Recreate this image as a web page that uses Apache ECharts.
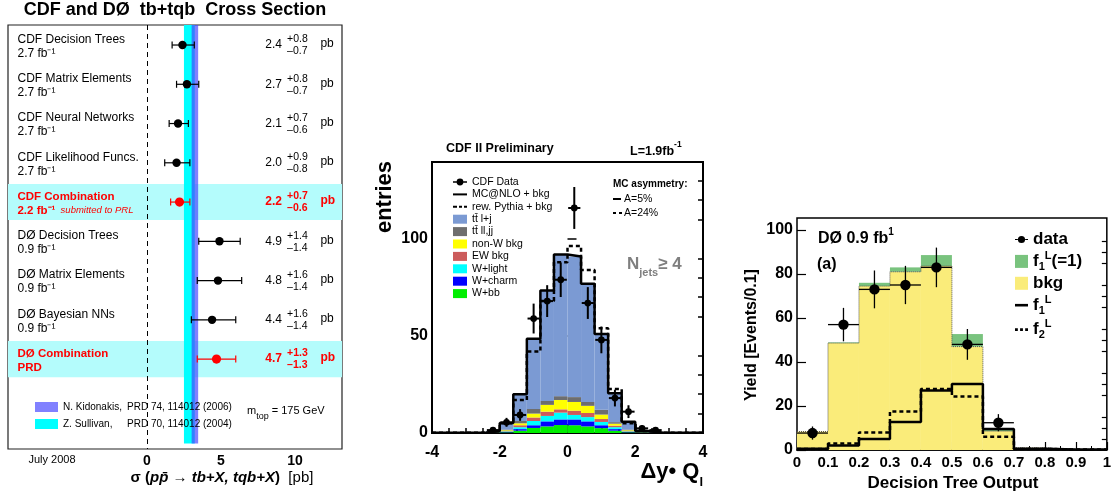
<!DOCTYPE html>
<html>
<head>
<meta charset="utf-8">
<title>Single top cross section</title>
<script src="https://cdn.jsdelivr.net/npm/echarts@6/dist/echarts.min.js"></script>
<style>
html, body { margin: 0; padding: 0; background: #fff; }
#container { width: 1114px; height: 496px; }
</style>
</head>
<body>
<div id="container"></div>
<script>
(function () {
    // ---------- left panel: tb+tqb cross section measurements [pb] ----------
    var measNames = ['CDF Decision Trees', 'CDF Matrix Elements', 'CDF Neural Networks', 'CDF Likelihood Funcs.',
        'CDF Combination', 'DØ Decision Trees', 'DØ Matrix Elements', 'DØ Bayesian NNs', 'DØ Combination'];
    var measSub = ['2.7 fb⁻¹', '2.7 fb⁻¹', '2.7 fb⁻¹', '2.7 fb⁻¹', '2.2 fb⁻¹', '0.9 fb⁻¹', '0.9 fb⁻¹', '0.9 fb⁻¹', 'PRD'];
    var measNote = ['', '', '', '', 'submitted to PRL', '', '', '', ''];
    var measVal = [2.4, 2.7, 2.1, 2.0, 2.2, 4.9, 4.8, 4.4, 4.7];
    var measUp = [0.8, 0.8, 0.7, 0.9, 0.7, 1.4, 1.6, 1.6, 1.3];
    var measDn = [0.7, 0.7, 0.6, 0.8, 0.6, 1.4, 1.4, 1.4, 1.3];
    var measComb = [false, false, false, false, true, false, false, false, true];
    var bandKidonakis = [3.02, 3.46];
    var bandSullivan = [2.50, 3.23];
    var xsTicks = [0, 5, 10];

    // ---------- middle panel: CDF dy*Q, Njets >= 4 ----------
    var dyBins = [-3.8, -3.4, -3.0, -2.6, -2.2, -1.8, -1.4, -1.0, -0.6, -0.2, 0.2, 0.6, 1.0, 1.4, 1.8, 2.2, 2.6, 3.0, 3.4, 3.8];
    var cdfData = [0, 0, 0, 0, 1.5, 5.5, 9.3, 59, 68, 79, 116, 67, 48, 18, 11, 2.4, 1.5, 0, 0, 0];
    var cdfErr = [0, 0, 0, 0, 1.2, 2.3, 3.0, 7.7, 8.2, 8.9, 10.8, 8.2, 6.9, 4.3, 3.3, 1.5, 1.2, 0, 0, 0];
    var mcnlo = [0.1, 0.1, 0.1, 0.2, 1.0, 5.2, 20, 48.6, 73.5, 92, 91, 77, 51, 20.5, 5.8, 1.0, 0.2, 0.1, 0.1, 0.1];
    var pythia = [0.1, 0.1, 0.1, 0.2, 1.0, 5.0, 17, 42, 68, 88, 96.4, 84, 54, 22.7, 5.0, 1.0, 0.2, 0.1, 0.1, 0.1];
    var ttLj = [0.1, 0.1, 0.1, 0.2, 0.6, 3.4, 13.8, 36.2, 57, 73, 72.5, 61, 39, 14.9, 4.0, 0.6, 0.2, 0.1, 0.1, 0.1];
    var ttDil = [0, 0, 0, 0, 0.1, 0.4, 1.2, 2.4, 2.0, 2.0, 2.5, 2.0, 2.5, 0.8, 0.4, 0.1, 0, 0, 0, 0];
    var nonW = [0, 0, 0, 0, 0.1, 0.4, 1.0, 2.0, 3.5, 4.8, 4.5, 3.7, 2.3, 1.0, 0.4, 0.1, 0, 0, 0, 0];
    var ewBkg = [0, 0, 0, 0, 0, 0.2, 1.0, 1.8, 2.2, 1.7, 2.2, 2.1, 1.5, 0.8, 0.2, 0, 0, 0, 0, 0];
    var wLight = [0, 0, 0, 0, 0.1, 0.3, 1.0, 2.2, 2.8, 3.5, 2.3, 2.2, 1.7, 1.0, 0.3, 0.1, 0, 0, 0, 0];
    var wCharm = [0, 0, 0, 0, 0.1, 0.2, 0.8, 1.4, 2.6, 2.9, 3.0, 2.6, 1.5, 0.8, 0.2, 0.1, 0, 0, 0, 0];
    var wBb = [0, 0, 0, 0, 0.1, 0.3, 1.2, 2.6, 3.4, 4.1, 4.0, 3.4, 2.5, 1.2, 0.3, 0.1, 0, 0, 0, 0];
    var dyMajor = [0, 50, 100];
    var dyMinor = [10, 20, 30, 40, 60, 70, 80, 90, 110, 120, 130];

    // ---------- right panel: DØ decision tree output ----------
    var dtBins = [0.05, 0.15, 0.25, 0.35, 0.45, 0.55, 0.65, 0.75, 0.85, 0.95];
    var dtData = [7.7, 57, 73, 75, 83, 48, 12.4, 0, 0, 0];
    var dtErr = [3.0, 7.6, 8.6, 8.7, 9.0, 7.0, 3.9, 0, 0, 0];
    var dtBkg = [8.4, 48.6, 74.5, 81, 83.6, 47, 8.6, 1.0, 0.3, 0.3];
    var dtSig = [0, 0.3, 1.5, 2.0, 5.0, 5.7, 1.2, 0, 0, 0];
    var dtF1 = [0.6, 2.0, 5.0, 12.7, 27, 30, 9.5, 0.6, 0.2, 0.2];
    var dtF2 = [0.4, 3.0, 8.0, 17.5, 27.7, 24.3, 6.0, 0.5, 0.2, 0.2];
    var dtMajor = [0, 20, 40, 60, 80, 100];
    var dtMinor = [5, 10, 15, 25, 30, 35, 45, 50, 55, 65, 70, 75, 85, 90, 95];

    var font = "'Liberation Sans', Arial, Helvetica, sans-serif";

    function stepData(centers, vals, half) {
        var out = [];
        for (var i = 0; i < vals.length; i++) {
            out.push([centers[i] - half, vals[i]]);
        }
        out.push([centers[centers.length - 1] + half, vals[vals.length - 1]]);
        return out;
    }

    function pointData(centers, vals, errs) {
        var out = [];
        for (var i = 0; i < vals.length; i++) {
            if (vals[i] > 0) out.push([centers[i], vals[i], errs[i]]);
        }
        return out;
    }

    function makePointRenderer(halfWidth, radius, lw) {
        return function (params, api) {
            var x = api.value(0), y = api.value(1), e = api.value(2);
            var c = api.coord([x, y]);
            var t = api.coord([x, y + e]);
            var b = api.coord([x, y - e]);
            var l = api.coord([x - halfWidth, y]);
            var r = api.coord([x + halfWidth, y]);
            return {
                type: 'group',
                children: [
                    {type: 'line', shape: {x1: c[0], y1: t[1], x2: c[0], y2: b[1]}, style: {stroke: '#000', lineWidth: lw}},
                    {type: 'line', shape: {x1: l[0], y1: c[1], x2: r[0], y2: c[1]}, style: {stroke: '#000', lineWidth: lw}},
                    {type: 'circle', shape: {cx: c[0], cy: c[1], r: radius}, style: {fill: '#000'}}
                ]
            };
        };
    }

    function textEl(x, y, text, size, weight, color, align, rich) {
        return {
            type: 'text', x: x, y: y, silent: true,
            style: {
                text: text, fill: color || '#000',
                fontSize: size, fontWeight: weight || 'normal', fontFamily: font,
                textAlign: align || 'left', align: align || 'left',
                textVerticalAlign: 'middle', verticalAlign: 'middle',
                rich: rich
            }
        };
    }

    function richStyle(size, weight, color, extra) {
        var s = {fontSize: size, fontWeight: weight || 'normal', fontFamily: font, fill: color || '#000', color: color || '#000'};
        for (var k in (extra || {})) s[k] = extra[k];
        return s;
    }

    // where the row texts sit, in pb along the left axis
    var labelX = -8.75, valueX = 9.12, expX = 9.47, unitX = 11.72;

    function renderMeas(params, api) {
        var i = params.dataIndex;
        var v = api.value(0), row = api.value(1);
        var c = api.coord([v, row]);
        var l = api.coord([v - api.value(2), row]);
        var r = api.coord([v + api.value(3), row]);
        var comb = measComb[i];
        var col = comb ? '#ff0000' : '#000000';
        var wt = comb ? 'bold' : 'normal';
        var nameSize = comb ? 11.5 : 12;
        var nm = api.coord([labelX, row]);
        var nv = api.coord([valueX, row]);
        var ne = api.coord([expX, row]);
        var np = api.coord([unitX, row]);
        var subText = '{s|' + measSub[i] + '}' + (measNote[i] ? '{n|  ' + measNote[i] + '}' : '');
        var subRich = {
            s: richStyle(nameSize, wt, col),
            n: richStyle(9.5, 'normal', col, {fontStyle: 'italic'})
        };
        return {
            type: 'group',
            children: [
                {type: 'line', shape: {x1: l[0], y1: c[1], x2: r[0], y2: c[1]}, style: {stroke: col, lineWidth: 1.2}},
                {type: 'line', shape: {x1: l[0], y1: c[1] - 3.5, x2: l[0], y2: c[1] + 3.5}, style: {stroke: col, lineWidth: 1.2}},
                {type: 'line', shape: {x1: r[0], y1: c[1] - 3.5, x2: r[0], y2: c[1] + 3.5}, style: {stroke: col, lineWidth: 1.2}},
                {type: 'circle', shape: {cx: c[0], cy: c[1], r: comb ? 4.6 : 4.2}, style: {fill: col}},
                textEl(nm[0], c[1] - 5.5, measNames[i], nameSize, wt, col, 'left'),
                textEl(nm[0], c[1] + 8.5, subText, nameSize, wt, col, 'left', subRich),
                textEl(nv[0], c[1], measVal[i].toFixed(1), 12, wt, col, 'right'),
                textEl(ne[0], c[1] - 5.5, '+' + measUp[i].toFixed(1), 10.5, wt, col, 'left'),
                textEl(ne[0], c[1] + 6.5, '\u2013' + measDn[i].toFixed(1), 10.5, wt, col, 'left'),
                textEl(np[0], c[1] - 1, 'pb', 12, wt, col, 'left')
            ]
        };
    }

    function renderCombRow(params, api) {
        var cs = params.coordSys;
        var row = api.value(1);
        var a = api.coord([0, row - 0.46]);
        var b = api.coord([0, row + 0.46]);
        return {type: 'rect', shape: {x: cs.x, y: a[1], width: cs.width, height: b[1] - a[1]}, style: {fill: '#b4fcfc'}};
    }

    function renderBand(params, api) {
        var a = api.coord([api.value(0), -0.51]);
        var b = api.coord([api.value(1), 10.15]);
        return {type: 'rect', shape: {x: a[0], y: a[1], width: b[0] - a[0], height: b[1] - a[1]}, style: {fill: api.visual('color')}};
    }

    var measData = measVal.map(function (v, i) { return [v, i, measDn[i], measUp[i]]; });
    var combData = [];
    measComb.forEach(function (f, i) { if (f) combData.push([0, i]); });

    var dyCats = dyBins.map(String);
    var dtCats = dtBins.map(String);

    var boldLabel = function (size, margin) {
        return {color: '#000', fontSize: size, fontWeight: 'bold', fontFamily: font, margin: margin};
    };

    var dataIconMid = 'path://M0,4.2H4V5.8H0Z M10,4.2H14V5.8H10Z M7,1.6A3.4,3.4 0 1,1 7,8.4A3.4,3.4 0 1,1 7,1.6Z';
    var dataIconRight = 'path://M0,4.3H3.5V5.7H0Z M12.5,4.3H16V5.7H12.5Z M8,0.6A4.4,4.4 0 1,1 8,9.4A4.4,4.4 0 1,1 8,0.6Z';
    var solidIcon = 'path://M0,0H14V2H0Z';
    var dashIcon = 'path://M0,0H4V2H0Z M6,0H9V2H6Z M11,0H14V2H11Z';
    var solidIconR = 'path://M0,0H11V2.2H0Z';
    var dotIconR = 'path://M0,0H2.4V2.2H0Z M4.3,0H6.7V2.2H4.3Z M8.6,0H11V2.2H8.6Z';

    var dtLegendText = {
        'data': '{b|data}',
        'f1L(=1)': '{b|f}{sub|1}{sup|L}{b|(=1)}',
        'bkg': '{b|bkg}',
        'f1L': '{b|f}{sub|1}{sup|L}',
        'f2L': '{b|f}{sub|2}{sup|L}'
    };
    var refLegendText = {
        'N. Kidonakis, PRD 74, 114012 (2006)': '{a|N. Kidonakis,}{b|PRD 74, 114012 (2006)}',
        'Z. Sullivan, PRD 70, 114012 (2004)': '{a|Z. Sullivan,}{b|PRD 70, 114012 (2004)}'
    };

    var option = {
        animation: false,
        backgroundColor: '#ffffff',
        textStyle: {fontFamily: font},
        grid: [
            {left: 8, top: 25, width: 334, height: 424, show: true, borderColor: '#222', borderWidth: 1.2, backgroundColor: 'transparent'},
            {left: 432, top: 162, width: 271, height: 271, show: true, borderColor: '#000', borderWidth: 2, backgroundColor: 'transparent'},
            {left: 797, top: 218, width: 310, height: 232, show: true, borderColor: '#000', borderWidth: 1.5, backgroundColor: 'transparent'}
        ],
        xAxis: [
            {
                gridIndex: 0, type: 'value', min: -9.39, max: 13.18,
                axisLine: {show: false}, splitLine: {show: false},
                axisTick: {show: false},
                axisLabel: {customValues: xsTicks, color: '#000', fontSize: 14, fontWeight: 'bold', fontFamily: font, margin: 5}
            },
            {
                gridIndex: 1, type: 'value', min: -4, max: 4, interval: 2,
                axisLine: {lineStyle: {color: '#000', width: 2}}, splitLine: {show: false},
                axisTick: {inside: true, length: 9, lineStyle: {color: '#000', width: 1.5}},
                minorTick: {show: true, splitNumber: 4, length: 5, lineStyle: {color: '#000', width: 1.5}},
                axisLabel: boldLabel(16, 12)
            },
            {gridIndex: 1, type: 'category', data: dyCats, show: false},
            {
                gridIndex: 2, type: 'value', min: 0, max: 1, interval: 0.1,
                axisLine: {lineStyle: {color: '#000', width: 1.5}}, splitLine: {show: false},
                axisTick: {inside: true, length: 8, lineStyle: {color: '#000', width: 1.2}},
                minorTick: {show: true, splitNumber: 2, length: 4, lineStyle: {color: '#000', width: 1}},
                axisLabel: boldLabel(15, 5)
            },
            {gridIndex: 2, type: 'category', data: dtCats, show: false}
        ],
        yAxis: [
            {gridIndex: 0, type: 'value', inverse: true, min: -0.51, max: 10.29, show: false},
            {
                gridIndex: 1, type: 'value', min: 0, max: 139.7,
                axisLine: {show: false}, splitLine: {show: false},
                axisTick: {show: true, inside: true, length: 9, customValues: dyMajor, lineStyle: {color: '#000', width: 1.5}},
                axisLabel: {customValues: dyMajor, color: '#000', fontSize: 16, fontWeight: 'bold', fontFamily: font, margin: 4}
            },
            {
                gridIndex: 1, type: 'value', min: 0, max: 139.7,
                axisLine: {show: false}, splitLine: {show: false}, axisLabel: {show: false},
                axisTick: {show: true, inside: true, length: 5, customValues: dyMinor, lineStyle: {color: '#000', width: 1.5}}
            },
            {
                gridIndex: 2, type: 'value', min: 0, max: 105.45,
                axisLine: {show: false}, splitLine: {show: false},
                axisTick: {show: true, inside: true, length: 9, customValues: dtMajor, lineStyle: {color: '#000', width: 1.2}},
                axisLabel: {customValues: dtMajor, color: '#000', fontSize: 16, fontWeight: 'bold', fontFamily: font, margin: 4}
            },
            {
                gridIndex: 2, type: 'value', min: 0, max: 105.45,
                axisLine: {show: false}, splitLine: {show: false}, axisLabel: {show: false},
                axisTick: {show: true, inside: true, length: 5, customValues: dtMinor, lineStyle: {color: '#000', width: 1.2}}
            }
        ],
        legend: [
            {
                left: 35, top: 401, orient: 'vertical', padding: 0, itemGap: 5,
                itemWidth: 23, itemHeight: 10, icon: 'rect', selectedMode: false,
                data: ['N. Kidonakis, PRD 74, 114012 (2006)', 'Z. Sullivan, PRD 70, 114012 (2004)'],
                formatter: function (name) { return refLegendText[name]; },
                textStyle: {
                    fontSize: 10, lineHeight: 12, color: '#000', fontFamily: font,
                    rich: {
                        a: {fontSize: 10, fontFamily: font, color: '#000', width: 64},
                        b: {fontSize: 10, fontFamily: font, color: '#000'}
                    }
                }
            },
            {
                left: 453, top: 176, orient: 'vertical', padding: 0, itemGap: 0.4,
                itemWidth: 14, itemHeight: 9, selectedMode: false,
                data: [
                    {name: 'CDF Data', icon: dataIconMid},
                    {name: 'MC@NLO + bkg', icon: solidIcon},
                    {name: 'rew. Pythia + bkg', icon: dashIcon},
                    {name: 'tt\u0304 l+j', icon: 'rect'},
                    {name: 'tt\u0304 ll,jj', icon: 'rect'},
                    {name: 'non-W bkg', icon: 'rect'},
                    {name: 'EW bkg', icon: 'rect'},
                    {name: 'W+light', icon: 'rect'},
                    {name: 'W+charm', icon: 'rect'},
                    {name: 'W+bb', icon: 'rect'}
                ],
                textStyle: {fontSize: 10.5, lineHeight: 12, color: '#000', fontFamily: font}
            },
            {
                left: 1015, top: 231, orient: 'vertical', padding: 0, itemGap: 2.4,
                itemWidth: 13, itemHeight: 13, selectedMode: false,
                data: [
                    {name: 'data', icon: dataIconRight},
                    {name: 'f1L(=1)', icon: 'rect'},
                    {name: 'bkg', icon: 'rect'},
                    {name: 'f1L', icon: solidIconR},
                    {name: 'f2L', icon: dotIconR}
                ],
                formatter: function (name) { return dtLegendText[name]; },
                textStyle: {
                    fontSize: 17, fontWeight: 'bold', color: '#000', fontFamily: font,
                    rich: {
                        b: {fontSize: 17, fontWeight: 'bold', fontFamily: font, color: '#000', lineHeight: 22},
                        sub: {fontSize: 11, fontWeight: 'bold', fontFamily: font, color: '#000', lineHeight: 11, verticalAlign: 'bottom'},
                        sup: {fontSize: 11, fontWeight: 'bold', fontFamily: font, color: '#000', lineHeight: 11, verticalAlign: 'top'}
                    }
                }
            }
        ],
        graphic: [
            textEl(175, 10, 'CDF and DØ  tb+tqb  Cross Section', 18, 'bold', '#000', 'center'),
            textEl(52, 460, 'July 2008', 11, 'normal', '#000', 'center'),
            textEl(222, 478, '{n|σ (}{i|pp\u0304 → tb+X, tqb+X}{n|)}{r|  [pb]}', 15, 'bold', '#000', 'center', {
                n: richStyle(15, 'bold'),
                i: richStyle(15, 'bold', '#000', {fontStyle: 'italic'}),
                r: richStyle(15, 'normal')
            }),
            textEl(247, 413, '{m|m}{s|top}{m| = 175 GeV}', 11, 'normal', '#000', 'left', {
                m: richStyle(11, 'normal', '#000', {lineHeight: 16, verticalAlign: 'top'}),
                s: richStyle(9, 'normal', '#000', {lineHeight: 10, verticalAlign: 'bottom'})
            }),

            textEl(446, 149, 'CDF II Preliminary', 12.5, 'bold', '#000', 'left'),
            textEl(630, 149, '{b|L=1.9fb}{s|-1}', 12.5, 'bold', '#000', 'left', {
                b: richStyle(12.5, 'bold', '#000', {lineHeight: 18, verticalAlign: 'bottom'}),
                s: richStyle(8.5, 'bold', '#000', {lineHeight: 9, verticalAlign: 'top'})
            }),
            (function () {
                var t = textEl(385, 197, 'entries', 22, 'bold', '#000', 'center');
                t.rotation = Math.PI / 2;
                return t;
            })(),
            textEl(703, 475, '{b|Δy• Q}{s|l}', 22, 'bold', '#000', 'right', {
                b: richStyle(22, 'bold', '#000', {lineHeight: 28, verticalAlign: 'top'}),
                s: richStyle(13, 'bold', '#000', {lineHeight: 13, verticalAlign: 'bottom'})
            }),
            textEl(627, 267, '{n|N}{s|jets}{n|≥ 4}', 17, 'bold', '#7f7f7f', 'left', {
                n: richStyle(17, 'bold', '#7f7f7f', {lineHeight: 22, verticalAlign: 'top'}),
                s: richStyle(11, 'bold', '#7f7f7f', {lineHeight: 12, verticalAlign: 'bottom'})
            }),
            textEl(613, 184, 'MC asymmetry:', 10, 'bold', '#000', 'left'),
            {type: 'line', silent: true, shape: {x1: 613, y1: 199, x2: 621, y2: 199}, style: {stroke: '#000', lineWidth: 2}},
            textEl(624, 199, 'A=5%', 10.5, 'normal', '#000', 'left'),
            {type: 'line', silent: true, shape: {x1: 613, y1: 213, x2: 622, y2: 213}, style: {stroke: '#000', lineWidth: 2, lineDash: [3, 3]}},
            textEl(624, 213, 'A=24%', 10.5, 'normal', '#000', 'left'),

            textEl(818, 237, '{b|DØ 0.9 fb}{s|1}', 16, 'bold', '#000', 'left', {
                b: richStyle(16, 'bold', '#000', {lineHeight: 20, verticalAlign: 'bottom'}),
                s: richStyle(10, 'bold', '#000', {lineHeight: 10, verticalAlign: 'top'})
            }),
            textEl(817, 265, '(a)', 16, 'bold', '#000', 'left'),
            (function () {
                var t = textEl(752, 335, 'Yield [Events/0.1]', 16, 'bold', '#000', 'center');
                t.rotation = Math.PI / 2;
                return t;
            })(),
            textEl(953, 483, 'Decision Tree Output', 17, 'bold', '#000', 'center')
        ],
        series: [
            // ----- left -----
            {type: 'custom', xAxisIndex: 0, yAxisIndex: 0, silent: true, z: 1, renderItem: renderCombRow, data: combData},
            {name: 'Z. Sullivan, PRD 70, 114012 (2004)', type: 'custom', xAxisIndex: 0, yAxisIndex: 0, silent: true, z: 2,
                itemStyle: {color: '#00ffff'}, renderItem: renderBand, data: [bandSullivan]},
            {name: 'N. Kidonakis, PRD 74, 114012 (2006)', type: 'custom', xAxisIndex: 0, yAxisIndex: 0, silent: true, z: 3,
                itemStyle: {color: 'rgba(70,70,255,0.68)'}, renderItem: renderBand, data: [bandKidonakis]},
            {type: 'custom', xAxisIndex: 0, yAxisIndex: 0, silent: true, z: 4, renderItem: renderMeas, data: measData,
                markLine: {silent: true, symbol: ['none', 'none'], label: {show: false},
                    lineStyle: {color: '#000', width: 1, type: [5, 4]}, data: [{xAxis: 0}]}},

            // ----- middle -----
            {name: 'W+bb', type: 'bar', stack: 'mc', xAxisIndex: 2, yAxisIndex: 1, barCategoryGap: '0%', itemStyle: {color: '#00ee00'}, data: wBb, z: 2},
            {name: 'W+charm', type: 'bar', stack: 'mc', xAxisIndex: 2, yAxisIndex: 1, barCategoryGap: '0%', itemStyle: {color: '#0000ff'}, data: wCharm, z: 2},
            {name: 'W+light', type: 'bar', stack: 'mc', xAxisIndex: 2, yAxisIndex: 1, barCategoryGap: '0%', itemStyle: {color: '#00ffff'}, data: wLight, z: 2},
            {name: 'EW bkg', type: 'bar', stack: 'mc', xAxisIndex: 2, yAxisIndex: 1, barCategoryGap: '0%', itemStyle: {color: '#cc5c5c'}, data: ewBkg, z: 2},
            {name: 'non-W bkg', type: 'bar', stack: 'mc', xAxisIndex: 2, yAxisIndex: 1, barCategoryGap: '0%', itemStyle: {color: '#ffff00'}, data: nonW, z: 2},
            {name: 'tt\u0304 ll,jj', type: 'bar', stack: 'mc', xAxisIndex: 2, yAxisIndex: 1, barCategoryGap: '0%', itemStyle: {color: '#6e6e6e'}, data: ttDil, z: 2},
            {name: 'tt\u0304 l+j', type: 'bar', stack: 'mc', xAxisIndex: 2, yAxisIndex: 1, barCategoryGap: '0%', itemStyle: {color: '#7b9ad3'}, data: ttLj, z: 2},
            {name: 'MC@NLO + bkg', type: 'line', step: 'end', xAxisIndex: 1, yAxisIndex: 1, symbol: 'none', z: 3,
                itemStyle: {color: '#000'}, lineStyle: {color: '#000', width: 2.5}, data: stepData(dyBins, mcnlo, 0.2)},
            {name: 'rew. Pythia + bkg', type: 'line', step: 'end', xAxisIndex: 1, yAxisIndex: 1, symbol: 'none', z: 3,
                itemStyle: {color: '#000'}, lineStyle: {color: '#000', width: 2.5, type: [4, 3]}, data: stepData(dyBins, pythia, 0.2)},
            {name: 'CDF Data', type: 'custom', xAxisIndex: 1, yAxisIndex: 1, z: 4, itemStyle: {color: '#000'},
                renderItem: makePointRenderer(0.18, 3.4, 2), data: pointData(dyBins, cdfData, cdfErr)},

            // ----- right -----
            {name: 'bkg', type: 'bar', stack: 'dt', xAxisIndex: 4, yAxisIndex: 3, barCategoryGap: '0%', itemStyle: {color: '#faec7a'}, data: dtBkg, z: 2},
            {name: 'f1L(=1)', type: 'bar', stack: 'dt', xAxisIndex: 4, yAxisIndex: 3, barCategoryGap: '0%', itemStyle: {color: '#79c37e'}, data: dtSig, z: 2},
            {type: 'line', step: 'end', xAxisIndex: 3, yAxisIndex: 3, symbol: 'none', z: 3,
                lineStyle: {color: '#555', width: 1, type: 'dotted'}, data: stepData(dtBins, dtBkg, 0.05)},
            {name: 'f1L', type: 'line', step: 'end', xAxisIndex: 3, yAxisIndex: 3, symbol: 'none', z: 3,
                itemStyle: {color: '#000'}, lineStyle: {color: '#000', width: 2.5}, data: stepData(dtBins, dtF1, 0.05)},
            {name: 'f2L', type: 'line', step: 'end', xAxisIndex: 3, yAxisIndex: 3, symbol: 'none', z: 3,
                itemStyle: {color: '#000'}, lineStyle: {color: '#000', width: 2.5, type: [4, 3]}, data: stepData(dtBins, dtF2, 0.05)},
            {name: 'data', type: 'custom', xAxisIndex: 3, yAxisIndex: 3, z: 4, itemStyle: {color: '#000'},
                renderItem: makePointRenderer(0.05, 5.2, 1.3), data: pointData(dtBins, dtData, dtErr)}
        ]
    };

    var myChart = echarts.init(document.getElementById('container'));
    myChart.setOption(option);
})();
</script>
</body>
</html>
